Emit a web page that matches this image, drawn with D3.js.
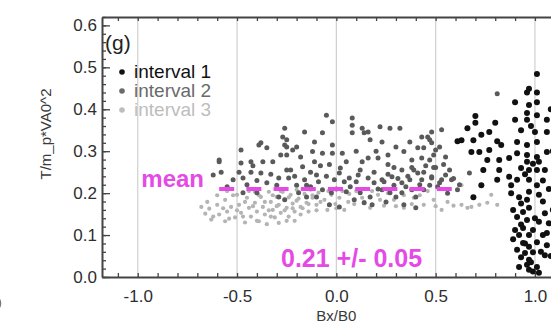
<!DOCTYPE html>
<html>
<head>
<meta charset="utf-8">
<script src="https://cdn.jsdelivr.net/npm/d3@7"></script>
<style>
  body { margin: 0; background: #fff; }
  svg { display: block; font-family: "Liberation Sans", Arial, sans-serif; }
</style>
</head>
<body>
<script>
// panel (g): T/m_p*VA0^2 against Bx/B0, three intervals

// interval 1 (black)
var interval1 = [
  [1.01,0.484],[0.96,0.44],[1.01,0.44],[0.97,0.449],[0.90,0.417],[0.97,0.41],[1.01,0.417],[0.96,0.391],
  [0.90,0.375],[0.96,0.375],[1.01,0.386],[1.06,0.375],[0.70,0.384],[0.70,0.368],[0.80,0.368],[0.66,0.355],
  [0.73,0.339],[0.77,0.346],[1.00,0.346],[1.06,0.346],[0.63,0.326],[0.69,0.326],[0.61,0.324],[0.81,0.324],
  [0.83,0.315],[0.91,0.322],[0.96,0.315],[1.01,0.322],[0.68,0.298],[0.72,0.298],[0.77,0.303],[0.91,0.295],
  [0.96,0.291],[1.01,0.286],[1.06,0.298],[0.76,0.279],[0.82,0.279],[0.87,0.284],[0.96,0.275],[1.02,0.275],
  [0.74,0.255],[0.82,0.255],[0.87,0.239],[0.97,0.255],[1.01,0.255],[1.05,0.255],[0.81,0.232],[0.91,0.232],
  [0.97,0.232],[0.73,0.219],[0.88,0.219],[1.01,0.219],[0.69,0.19],[0.92,0.19],[0.97,0.203],[1.02,0.196],
  [0.96,0.184],[0.97,0.165],[1.05,0.152],[0.91,0.143],[0.96,0.136],[1.02,0.132],[1.07,0.128],[0.90,0.112],
  [0.94,0.117],[0.99,0.112],[0.92,0.10],[0.97,0.10],[1.04,0.10],[1.01,0.083],[0.94,0.081],[0.97,0.072],
  [1.06,0.076],[0.91,0.065],[0.95,0.057],[0.99,0.059],[0.93,0.047],[0.97,0.041],[1.05,0.052],[0.96,0.029],
  [1.01,0.024],[0.99,0.013],[1.02,0.01],[0.92,0.024],[0.97,0.017],[0.89,0.16],[0.93,0.175],[1.04,0.18],
  [0.88,0.20],[0.95,0.245],[0.99,0.27],[1.04,0.23],[0.93,0.26],[1.07,0.21],[0.89,0.09],[0.94,0.155],
  [1.00,0.14],[1.03,0.06],[0.98,0.035],[0.93,0.125],[1.08,0.05],[1.06,0.105],[0.95,0.08],[1.09,0.16],
  [1.09,0.30],[1.08,0.40],[0.98,0.36],[0.93,0.35]
];

// interval 2 (dark grey)
var interval2 = [
  [-0.05,0.386],[-0.02,0.37],[0.08,0.379],[0.08,0.362],[0.13,0.355],[0.16,0.346],[0.22,0.358],[0.27,0.355],
  [0.32,0.355],[0.08,0.344],[0.14,0.344],[0.17,0.327],[-0.07,0.344],[-0.11,0.322],[-0.02,0.315],[0.23,0.322],
  [0.37,0.322],[0.43,0.334],[0.46,0.334],[0.48,0.32],[0.41,0.308],[0.44,0.308],[0.50,0.303],[-0.12,0.299],
  [-0.07,0.295],[-0.02,0.295],[0.03,0.295],[0.05,0.275],[0.13,0.275],[0.16,0.284],[0.21,0.284],[0.26,0.291],
  [0.34,0.299],[0.38,0.279],[0.43,0.284],[0.47,0.279],[-0.11,0.275],[-0.035,0.268],[0.26,0.268],[0.29,0.261],
  [0.33,0.255],[0.38,0.261],[0.41,0.248],[0.44,0.25],[0.49,0.261],[-0.13,0.25],[-0.10,0.243],[0.015,0.248],
  [0.065,0.236],[0.11,0.243],[0.16,0.236],[0.23,0.232],[0.28,0.239],[0.37,0.232],[0.43,0.232],[0.48,0.236],
  [-0.09,0.227],[-0.01,0.232],[0.04,0.227],[0.10,0.227],[0.19,0.225],[0.24,0.227],[0.29,0.219],[0.33,0.225],
  [0.38,0.208],[0.44,0.208],[0.47,0.219],[0.23,0.208],[0.27,0.201],[0.30,0.191],[0.33,0.201],[0.40,0.191],
  [0.12,0.201],[0.17,0.191],[0.05,0.203],[-0.025,0.201],[-0.07,0.208],[-0.10,0.191],[0.09,0.184],[0.14,0.177],
  [0.18,0.172],[0.25,0.179],[0.34,0.172],[0.40,0.165],[-0.035,0.172],[0.015,0.167],
  [-0.26,0.355],[-0.27,0.334],[-0.16,0.346],[-0.38,0.32],[-0.35,0.308],[-0.26,0.315],[-0.48,0.303],[-0.25,0.291],
  [-0.37,0.275],[-0.32,0.275],[-0.48,0.272],[-0.43,0.275],[-0.18,0.286],[-0.59,0.275],[-0.58,0.25],[-0.62,0.243],
  [-0.49,0.25],[-0.43,0.25],[-0.38,0.248],[-0.25,0.255],[-0.23,0.255],[-0.17,0.263],[-0.52,0.232],[-0.47,0.236],
  [-0.29,0.236],[-0.24,0.236],[-0.16,0.232],[-0.30,0.219],[-0.20,0.219],[-0.15,0.219],[-0.47,0.201],[-0.40,0.201],
  [-0.29,0.191],[-0.19,0.201],[-0.15,0.191],[-0.26,0.184],[-0.28,0.291],[-0.25,0.327],[-0.25,0.31],[-0.22,0.303],
  [-0.39,0.315],[-0.59,0.279],
  [0.48,0.346],[0.53,0.351],[0.47,0.327],[0.52,0.31],[0.49,0.291],[0.55,0.286],[0.54,0.268],[0.50,0.261],
  [0.57,0.255],[0.48,0.239],[0.53,0.232],[0.58,0.232],[0.39,0.255],[0.55,0.243],[0.52,0.225],[0.61,0.208],
  [0.67,0.248],[0.74,0.255],[0.81,0.437],
  [-0.45,0.22],[-0.40,0.23],[-0.35,0.225],[-0.33,0.245],[-0.21,0.24],[-0.13,0.215],[-0.05,0.24],[0.0,0.21],
  [0.07,0.215],[0.12,0.255],[0.19,0.25],[0.21,0.21],[0.26,0.245],[0.31,0.235],[0.35,0.215],[0.36,0.24],
  [0.42,0.22],[0.45,0.265],[0.51,0.215],[0.56,0.20],[-0.55,0.215],[-0.42,0.265],[-0.08,0.265],[0.02,0.26],
  [0.10,0.30],[0.20,0.30],[0.30,0.31],[-0.2,0.31],[0.59,0.235],[0.62,0.22]
];

// interval 3 (light grey)
var interval3 = [
  [-0.68,0.167],[-0.66,0.151],[-0.64,0.163],[-0.63,0.137],[-0.60,0.172],[-0.59,0.149],[-0.56,0.184],[-0.55,0.156],
  [-0.56,0.133],[-0.53,0.167],[-0.51,0.142],[-0.50,0.196],[-0.49,0.172],[-0.48,0.153],[-0.46,0.13],[-0.45,0.189],
  [-0.44,0.165],[-0.43,0.144],[-0.41,0.203],[-0.41,0.177],[-0.40,0.156],[-0.39,0.133],[-0.38,0.191],[-0.37,0.167],
  [-0.36,0.149],[-0.35,0.126],[-0.34,0.203],[-0.33,0.179],[-0.32,0.16],[-0.31,0.142],[-0.30,0.191],[-0.29,0.172],
  [-0.28,0.153],[-0.27,0.203],[-0.26,0.184],[-0.25,0.165],[-0.24,0.144],[-0.23,0.196],[-0.22,0.175],[-0.21,0.156],
  [-0.20,0.208],[-0.19,0.187],[-0.18,0.167],[-0.16,0.198],[-0.15,0.177],[-0.14,0.156],[-0.13,0.208],[-0.12,0.189],
  [-0.10,0.172],[-0.09,0.201],[-0.06,0.184],[-0.045,0.16],[-0.025,0.196],[-0.005,0.174],[0.015,0.189],[0.04,0.16],
  [0.065,0.198],[0.09,0.174],[0.13,0.189],[0.17,0.165],[0.21,0.196],[0.24,0.17],[0.29,0.184],[0.34,0.165],
  [0.39,0.189],[0.44,0.172],[0.49,0.184],[0.53,0.16],[0.56,0.179],[0.59,0.17],[0.63,0.172],[0.66,0.165],
  [0.68,0.167],[0.72,0.172],[0.76,0.177],[0.78,0.196],[0.63,0.219],[0.81,0.172],
  [-0.52,0.195],[-0.50,0.159],[-0.46,0.179],[-0.44,0.205],[-0.42,0.169],[-0.39,0.195],[-0.36,0.179],[-0.34,0.159],
  [-0.32,0.195],[-0.30,0.169],[-0.28,0.205],[-0.26,0.159],[-0.24,0.19],[-0.22,0.164],[-0.20,0.182],[-0.18,0.149],
  [-0.16,0.21],[-0.14,0.174],[-0.12,0.195],[-0.10,0.159],[-0.08,0.179],[-0.04,0.205],[0.0,0.164],[0.03,0.205],
  [0.06,0.179],[0.10,0.205],[0.14,0.179],[0.18,0.205],[0.22,0.184],[0.26,0.2],[0.30,0.169],[0.34,0.195],
  [0.38,0.174],[0.42,0.195],[0.46,0.205],[0.50,0.169],[-0.62,0.144],[-0.57,0.164],[-0.54,0.139],[-0.47,0.144],
  [-0.40,0.134],[-0.33,0.144],[-0.29,0.129],[-0.25,0.134],[-0.21,0.134],[-0.17,0.164],[-0.55,0.205],[-0.60,0.195],
  [-0.65,0.179]
];

var seriesNames = ["interval 1", "interval 2", "interval 3"];
var meanValue = 0.21;
var meanText = "0.21 +/- 0.05";
var meanExtent = [-0.59, 0.59];

var xMajorTicks = [-1.0, -0.5, 0.0, 0.5, 1.0];
var xTickLabels = ["-1.0", "-0.5", "0.0", "0.5", "1.0"];
var yMajorTicks = [0.0, 0.1, 0.2, 0.3, 0.4, 0.5, 0.6];
var yTickLabels = ["0.0", "0.1", "0.2", "0.3", "0.4", "0.5", "0.6"];

var svgWidth = 551;
var svgHeight = 323;

var svg = d3.select("body")
  .append("svg")
  .attr("width", svgWidth)
  .attr("height", svgHeight);

// plot box, cropped on the right like the original panel
var plot = { left: 102, right: 570.7, top: 17, bottom: 277 };

var xScale = d3.scaleLinear()
  .domain([-1.18, 1.18])
  .range([plot.left, plot.right]);

var yScale = d3.scaleLinear()
  .domain([0, 0.62])
  .range([plot.bottom, plot.top]);

var axisColor = "#444";
var magenta = "#e64ae6";

// vertical grid lines
svg.selectAll("line.grid")
  .data(xMajorTicks)
  .enter()
  .append("line")
  .attr("class", "grid")
  .attr("x1", d => xScale(d))
  .attr("x2", d => xScale(d))
  .attr("y1", plot.top)
  .attr("y2", plot.bottom)
  .attr("stroke", "#cfcfcf")
  .attr("stroke-width", 1.2);

// minor tick positions every 0.1 / 0.02
var xMinor = d3.range(-11, 12).map(d => d / 10);
var yMinor = d3.range(0, 32).map(d => d / 50);

function styleAxis(g) {
  g.select(".domain").attr("stroke", axisColor).attr("stroke-width", 2);
  g.selectAll(".tick line").attr("stroke", axisColor).attr("stroke-width", 1.3);
  g.selectAll("text").attr("fill", "#2e2e2e").style("font-size", "17px");
}

// bottom axis
svg.append("g")
  .attr("transform", `translate(0, ${plot.bottom})`)
  .call(d3.axisBottom(xScale).tickValues(xMinor).tickSize(-4).tickSizeOuter(0).tickFormat(""))
  .call(styleAxis);

svg.append("g")
  .attr("transform", `translate(0, ${plot.bottom})`)
  .call(d3.axisBottom(xScale).tickValues(xMajorTicks).tickSize(0).tickPadding(13)
    .tickFormat((d, i) => xTickLabels[i]))
  .call(g => g.select(".domain").remove())
  .call(styleAxis);

// top axis
svg.append("g")
  .attr("transform", `translate(0, ${plot.top})`)
  .call(d3.axisTop(xScale).tickValues(xMinor).tickSize(-4).tickSizeOuter(0).tickFormat(""))
  .call(styleAxis);

// left axis
svg.append("g")
  .attr("transform", `translate(${plot.left}, 0)`)
  .call(d3.axisLeft(yScale).tickValues(yMinor).tickSize(-4).tickSizeOuter(0).tickFormat(""))
  .call(styleAxis);

svg.append("g")
  .attr("transform", `translate(${plot.left}, 0)`)
  .call(d3.axisLeft(yScale).tickValues(yMajorTicks).tickSize(-8).tickPadding(5)
    .tickFormat((d, i) => yTickLabels[i]))
  .call(g => g.select(".domain").remove())
  .call(styleAxis);

// points, light first so darker intervals sit on top
var series = [
  { data: interval3, color: "#b4b4b4", r: 2.1 },
  { data: interval2, color: "#5a5a5a", r: 2.5 },
  { data: interval1, color: "#111", r: 3 }
];

series.forEach(function(s) {
  svg.append("g")
    .selectAll("circle")
    .data(s.data)
    .enter()
    .append("circle")
    .attr("cx", d => xScale(d[0]))
    .attr("cy", d => yScale(d[1]))
    .attr("r", s.r)
    .attr("fill", s.color);
});

// mean line
svg.append("line")
  .attr("x1", xScale(meanExtent[0]))
  .attr("x2", xScale(meanExtent[1]))
  .attr("y1", yScale(meanValue))
  .attr("y2", yScale(meanValue))
  .attr("stroke", magenta)
  .attr("stroke-width", 4)
  .attr("stroke-dasharray", "15,12.2");

svg.append("text")
  .attr("x", 204)
  .attr("y", 187)
  .attr("text-anchor", "end")
  .style("font-size", "24px")
  .style("font-weight", "bold")
  .attr("fill", magenta)
  .text("mean");

svg.append("text")
  .attr("x", 281)
  .attr("y", 267)
  .style("font-size", "25px")
  .style("font-weight", "bold")
  .attr("fill", magenta)
  .text(meanText);

// panel letter and legend
svg.append("text")
  .attr("x", 105)
  .attr("y", 50)
  .style("font-size", "21px")
  .attr("fill", "#222")
  .text("(g)");

var legendColors = ["#111", "#6a6a6a", "#bdbdbd"];
var legend = svg.selectAll("g.legend")
  .data(seriesNames)
  .enter()
  .append("g")
  .attr("class", "legend")
  .attr("transform", (d, i) => `translate(122, ${72 + i * 19})`);

legend.append("circle")
  .attr("r", 2.8)
  .attr("fill", (d, i) => legendColors[i]);

legend.append("text")
  .attr("x", 12)
  .attr("y", 6)
  .style("font-size", "19px")
  .attr("fill", (d, i) => legendColors[i])
  .text(d => d);

// axis titles
svg.append("text")
  .attr("transform", "translate(51, 134) rotate(-90)")
  .attr("text-anchor", "middle")
  .style("font-size", "15px")
  .attr("fill", "#3a3a3a")
  .text("T/m_p*VA0^2");

svg.append("text")
  .attr("x", xScale(0))
  .attr("y", 321)
  .attr("text-anchor", "middle")
  .style("font-size", "15px")
  .attr("fill", "#3a3a3a")
  .text("Bx/B0");

// edge of the neighbouring panel (only a sliver shows)
svg.append("path")
  .attr("d", "M -3 296 Q 4 303 -3 311")
  .attr("fill", "none")
  .attr("stroke", "#777")
  .attr("stroke-width", 1.5);
</script>
</body>
</html>
